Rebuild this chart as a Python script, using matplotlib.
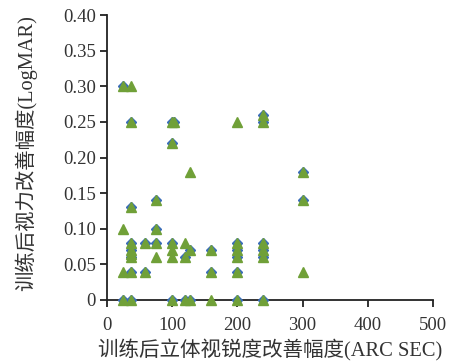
import numpy as np
import matplotlib.pyplot as plt
from matplotlib.ticker import FixedLocator, FixedFormatter

plt.rcParams['font.family'] = ['Liberation Serif', 'Noto Sans CJK SC']

# green triangles (all points)
x_green = [24, 24, 24, 24,
           37, 37, 37, 37, 37, 37, 37, 37, 37,
           59, 59,
           75, 75, 75, 75,
           100, 103, 100, 100, 100, 100, 100,
           120, 120, 120,
           127, 127, 127,
           160, 160, 160,
           200, 200, 200, 200, 200, 200,
           240, 240, 240, 240, 240, 240,
           300, 300, 300]
y_green = [0.30, 0.10, 0.04, 0,
           0.30, 0.25, 0.13, 0.08, 0.07, 0.065, 0.06, 0.04, 0,
           0.08, 0.04,
           0.14, 0.10, 0.08, 0.06,
           0.25, 0.25, 0.22, 0.08, 0.07, 0.06, 0,
           0.08, 0.06, 0,
           0.18, 0.07, 0,
           0.07, 0.04, 0,
           0.25, 0.08, 0.07, 0.06, 0.04, 0,
           0.26, 0.25, 0.08, 0.07, 0.06, 0,
           0.18, 0.14, 0.04]

# blue diamonds (partly hidden under the triangles)
x_blue = [24, 24,
          37, 37, 37, 37, 37, 37, 37,
          59, 59,
          75, 75, 75,
          100, 103, 100, 100, 100,
          120, 120,
          127, 127,
          160, 160,
          200, 200, 200, 200, 200,
          240, 240, 240, 240, 240, 240,
          300, 300]
y_blue = [0.30, 0,
          0.25, 0.13, 0.08, 0.07, 0.06, 0.04, 0,
          0.08, 0.04,
          0.14, 0.10, 0.08,
          0.25, 0.25, 0.22, 0.08, 0,
          0.06, 0,
          0.07, 0,
          0.07, 0.04,
          0.08, 0.07, 0.06, 0.04, 0,
          0.26, 0.25, 0.08, 0.07, 0.06, 0,
          0.18, 0.14]

y_ticks = [0, 0.05, 0.10, 0.15, 0.20, 0.25, 0.30, 0.35, 0.40]
y_ticklabels = ['0', '0.05', '0.10', '0.15', '0.20', '0.25', '0.30', '0.35', '0.40']
x_ticks = [0, 100, 200, 300, 400, 500]

fig = plt.figure(figsize=(4.51, 3.64), dpi=100)
ax = fig.add_axes([107 / 451, 64 / 364, 326 / 451, 285 / 364])

ax.plot(x_blue, y_blue, linestyle='none', marker='D', markersize=4.6,
        color='#3a6db8', clip_on=False, zorder=3)
ax.plot(x_green, y_green, linestyle='none', marker='^', markersize=7.2,
        color='#70a038', clip_on=False, zorder=4)

ax.set_xlim(0, 500)
ax.set_ylim(0, 0.40)
ax.xaxis.set_major_locator(FixedLocator(x_ticks))
ax.yaxis.set_major_locator(FixedLocator(y_ticks))
ax.yaxis.set_major_formatter(FixedFormatter(y_ticklabels))

for s in ['top', 'right']:
    ax.spines[s].set_visible(False)
for s in ['left', 'bottom']:
    ax.spines[s].set_linewidth(1.3)
    ax.spines[s].set_color('#222222')

ax.tick_params(direction='out', length=5, width=1.3, labelsize=13.5,
               colors='#222222', labelcolor='#333333', pad=3)
ax.tick_params(axis='x', pad=7)

ax.set_xlabel('训练后立体视锐度改善幅度(ARC SEC)', fontsize=14.8, color='#333333')
ax.xaxis.set_label_coords(0.5, -0.178)
ax.xaxis.label.set_va('center')
ax.set_ylabel('训练后视力改善幅度(LogMAR)', fontsize=14.7, color='#333333')
ax.yaxis.set_label_coords(-0.25, 0.515)
ax.yaxis.label.set_va('center')

fig.savefig('out.png', dpi=100)
